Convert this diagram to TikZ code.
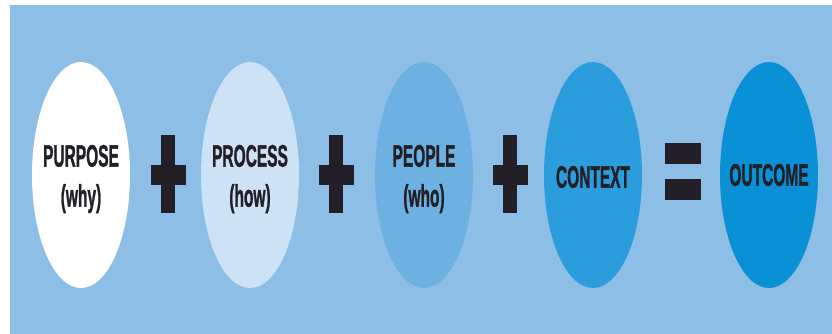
\documentclass[tikz,border=0pt]{standalone}
\usepackage{fontspec}
\setmainfont{Liberation Sans}[BoldFeatures={FakeBold=1.6}]
\usepackage{tikz}
\usetikzlibrary{shapes.geometric}

\definecolor{bgblue}{HTML}{8CBEE6}
\definecolor{ovalA}{HTML}{FFFFFF}
\definecolor{ovalB}{HTML}{CDE2F5}
\definecolor{ovalC}{HTML}{6DB1E2}
\definecolor{ovalD}{HTML}{2B9DDC}
\definecolor{ovalE}{HTML}{0A90D5}
\definecolor{inkdark}{HTML}{221F26}

\newcommand{\sqz}[1]{\scalebox{0.5}[1]{#1}}

\tikzset{
    oval/.style={ellipse, draw=none, minimum width=98pt, minimum height=226pt,
        inner sep=0pt},
    word/.style={inner sep=0pt, align=center, text=inkdark,
        font=\fontsize{31}{40}\selectfont\bfseries},
}

\begin{document}
\begin{tikzpicture}[x=1pt, y=-1pt]
    \useasboundingbox (0, 0) rectangle (832, 334);
    \fill[white] (0, 0) rectangle (832, 334);
    \fill[bgblue] (10, 5) rectangle (832, 334);
    % the five ovals
    \node[oval, fill=ovalA] (purpose) at (81, 175) {};
    \node[oval, fill=ovalB] (process) at (250, 175) {};
    \node[oval, fill=ovalC] (people) at (424, 175) {};
    \node[oval, fill=ovalD] (context) at (593, 175) {};
    \node[oval, fill=ovalE] (outcome) at (769, 175) {};
    % their words
    \node[word] (purposeText) at ([yshift=-4pt]purpose) {\sqz{PURPOSE}\\\sqz{(why)}};
    \node[word] (processText) at ([yshift=-4pt]process) {\sqz{PROCESS}\\\sqz{(how)}};
    \node[word] (peopleText) at ([yshift=-4pt]people) {\sqz{PEOPLE}\\\sqz{(who)}};
    \node[word] (contextText) at ([yshift=-2pt]context) {\sqz{CONTEXT}};
    \node[word] (outcomeText) at (outcome) {\sqz{OUTCOME}};
    % plus signs
    \foreach \x in {168, 336, 510} {
        \fill[inkdark] ({\x-7}, 135) rectangle ({\x+7}, 213);
        \fill[inkdark] ({\x-17.5}, 165) rectangle ({\x+17.5}, 185);
    }
    % equals sign
    \fill[inkdark] (665, 143) rectangle (701, 164);
    \fill[inkdark] (665, 179) rectangle (701, 200);
\end{tikzpicture}
\end{document}
